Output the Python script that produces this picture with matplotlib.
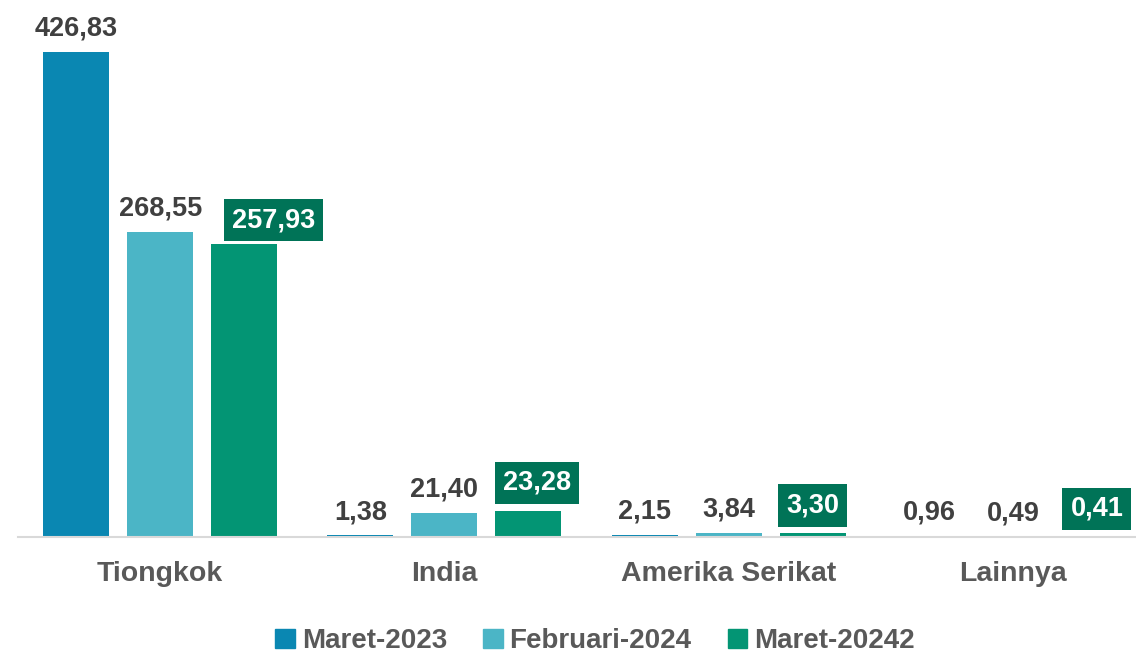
import numpy as np
import matplotlib.pyplot as plt
from matplotlib.patches import Patch

# data
categories = ["Tiongkok", "India", "Amerika Serikat", "Lainnya"]
series_names = ["Maret-2023", "Februari-2024", "Maret-20242"]
maret_2023 = [426.83, 1.38, 2.15, 0.96]
feb_2024 = [268.55, 21.40, 3.84, 0.49]
maret_2024 = [257.93, 23.28, 3.30, 0.41]

colors = ["#0A87B2", "#4BB5C6", "#039574"]
box_color = "#007357"

plt.rcParams['font.family'] = ['Liberation Sans', 'DejaVu Sans']
plt.rcParams['font.weight'] = 'bold'

fig = plt.figure(figsize=(11.36, 6.54), dpi=100)
ax = fig.add_axes([18/1136, (654-537)/654, 1 - 18/1136, (537-14)/654])

x = np.arange(len(categories))
step = 0.2955
width = 0.232
all_series = [maret_2023, feb_2024, maret_2024]

def fmt(v):
    return f"{v:.2f}".replace(".", ",")

# manual shifts (points) for the boxed labels
box_dx = [21, 6, 0, 0]
box_dy = [17, 20, 20, 20]

for i, vals in enumerate(all_series):
    xs = x + (i - 1) * step
    ax.bar(xs, vals, width, color=colors[i], zorder=2)
    for j, (xx, v) in enumerate(zip(xs, vals)):
        if i < 2:
            ax.annotate(fmt(v), (xx, v), xytext=(0, 11.5), textcoords='offset points',
                        ha='center', va='baseline', fontsize=19.5,
                        fontweight='bold', color='#404040')
        else:
            ax.annotate(fmt(v), (xx, v), xytext=(box_dx[j], box_dy[j]), textcoords='offset points',
                        ha='center', va='center', fontsize=19.5,
                        fontweight='bold', color='white',
                        bbox=dict(boxstyle='square,pad=0.3', fc=box_color, ec='none'))

ax.set_xlim(-0.5, (1136 - 160) / 284.3)
ax.set_ylim(0, 460)
ax.set_xticks(x)
ax.set_xticklabels(categories, fontsize=20.5, fontweight='bold', color='#595959')
ax.tick_params(axis='x', length=0, pad=17.5)
ax.set_yticks([])
for s in ['top', 'right', 'left']:
    ax.spines[s].set_visible(False)
ax.spines['bottom'].set_color('#D9D9D9')
ax.spines['bottom'].set_linewidth(1.5)

handles = [Patch(color=c) for c in colors]
leg = fig.legend(handles, series_names, loc='center', bbox_to_anchor=(595/1136, 1 - 641/654),
                 ncol=3, frameon=False, fontsize=20, handlelength=0.7, handleheight=0.7,
                 handletextpad=0.25, columnspacing=1.3)
for t in leg.get_texts():
    t.set_color('#595959')
    t.set_fontweight('bold')

plt.savefig('out.png', dpi=100)
